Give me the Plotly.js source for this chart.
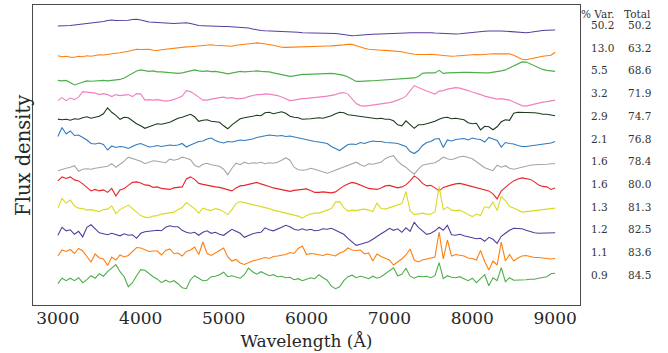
<!DOCTYPE html>
<html>
<head>
<meta charset="utf-8">
<script src="https://cdn.plot.ly/plotly-3.0.1.min.js"></script>
<style>
  html, body { margin: 0; padding: 0; background: #ffffff; }
  #chart { width: 668px; height: 353px; }
</style>
</head>
<body>
<div id="chart"></div>
<script>
// Wavelength grid (Å) shared by all eigenspectra
const wavelength = [
  3000,3050,3100,3150,3200,3250,3300,3350,3400,3450,
  3500,3550,3600,3650,3700,3750,3800,3850,3900,3950,
  4000,4050,4100,4150,4200,4250,4300,4350,4400,4450,
  4500,4550,4600,4650,4700,4750,4800,4850,4900,4950,
  5000,5050,5100,5150,5200,5250,5300,5350,5400,5450,
  5500,5550,5600,5650,5700,5750,5800,5850,5900,5950,
  6000,6050,6100,6150,6200,6250,6300,6350,6400,6450,
  6500,6550,6600,6650,6700,6750,6800,6850,6900,6950,
  7000,7050,7100,7150,7200,7250,7300,7350,7400,7450,
  7500,7550,7600,7650,7700,7750,7800,7850,7900,7950,
  8000,8050,8100,8150,8200,8250,8300,8350,8400,8450,
  8500,8550,8600,8650,8700,8750,8800,8850,8900,8950,
  9000
];

// Explained variance per component and cumulative total (%)
const pctVar = ['50.2','13.0','5.5','3.2','2.9','2.1','1.6','1.6','1.3','1.2','1.1','0.9'];
const cumVar = ['50.2','63.2','68.6','71.9','74.7','76.8','78.4','80.0','81.3','82.5','83.6','84.5'];

// Eigenspectra (arbitrary flux units, each about its own zero level)
const pc1 = [
  -1,-1,-0.8,-0.5,0,0.5,1,1.5,2,2.3,
  2.5,3.5,4.5,5,4.5,4.7,4.3,4.8,5.5,5.8,
  5,4,3,2.8,2.5,2.3,2.5,2,1.5,1.8,
  2,2.3,1.5,0.5,-0.5,-0.7,-1,-1.2,-1.3,-1.5,
  -1.5,-1.5,-1.7,-1.8,-2,-2.3,-3,-4,-5,-5.5,
  -5.8,-6,-6,-6.1,-6,-6.2,-6.3,-6.8,-7.3,-7.8,
  -7.8,-7.8,-8,-8.2,-8,-8,-8.2,-8.5,-9,-9.8,
  -10.3,-10.7,-10.5,-10,-9.8,-9.5,-9.3,-9.2,-9.3,-9.2,
  -9,-8.8,-8.5,-8.3,-8,-7.8,-7.7,-7.7,-7.7,-7.7,
  -7.7,-8,-8.3,-8.7,-8.8,-9,-9,-8.7,-8.2,-7.5,
  -7,-6.5,-6.2,-6.2,-6,-5.8,-5.8,-6,-6.2,-6.5,
  -7,-7.5,-7.8,-7.8,-7.3,-6.5,-6,-5.5,-5.3,-5.2,
  -5
];
const pc2 = [
  -8,-9,-8.5,-9.5,-9.5,-8.5,-9,-8,-8.5,-7.5,
  -7,-7.3,-6.5,-6,-5.5,-5,-4.5,-3.5,-2.5,-1.5,
  -1.8,-2,-1.5,-2.5,-2.8,-2,-1.5,-1,0,0.5,
  0.5,0.8,1,1.5,2,2.3,2.5,3,2.5,2.2,
  1.8,1.3,1.5,2.5,3,3.5,4,4.5,4.8,4.5,
  4,3.5,2.5,1.5,0.5,0.3,0.5,0.8,1,0.8,
  1,1.2,1.3,1.5,1.5,1.7,1.8,2,2.3,2.8,
  3.5,3.3,2,0.5,-0.5,-1.5,-2,-2.3,-2.5,-2.7,
  -3,-3,-3.3,-4,-5,-6,-6.5,-6.8,-7,-6.8,
  -6.5,-7,-7.5,-8,-8.5,-8.5,-8.3,-8,-7.5,-7,
  -7,-6.8,-7,-6.5,-6,-6,-6.2,-6,-5.5,-6,
  -7.5,-9.5,-11.5,-12,-11,-10,-9,-8.5,-8,-7.5,
  -4.5
];
const pc3 = [
  -10,-10.5,-10,-12,-14.5,-13,-11.5,-10.5,-10.8,-10.3,
  -10.5,-10,-10.5,-10,-9.5,-9,-7.5,-5,-2.5,-0.5,
  0.5,0,-1,-0.5,-1.5,-1.5,-2,-2.2,-2.5,-3,
  -2.5,-1.5,-0.5,0.5,-0.5,-1,-0.5,-1.2,-1,-1.5,
  -2.5,-3.5,-2.5,-1.5,-1,-1.5,-1,-1.2,-0.5,-1,
  -1,-1.5,-2.5,-3.5,-4.5,-5.5,-6,-5.5,-4.5,-4,
  -4,-3.8,-3.5,-3,-2.8,-2.5,-3,-3.5,-4,-5,
  -6.5,-9,-11,-11,-10.5,-10.5,-10.3,-10,-10,-9.5,
  -9.3,-9,-8.5,-8.3,-8.5,-8,-7.5,-6,-3,-2.5,
  -2.5,-2.5,0,-3,-2.5,-2.2,-2,-1.8,-2,-2,
  -2.3,-2,-2.2,-2.5,-2.5,-2,-1.5,-0.5,0.5,2.5,
  4.5,7,8.5,8.3,6.5,4.5,2.5,1,0,-0.8,
  -1
];
const pc4 = [
  -7.5,-4.5,-7.5,-5,-6.5,-4,1.5,1,0.5,0,
  -1.5,-0.5,-1.5,-3.5,-1.5,-2.5,-2,-1.5,-3.5,-0.5,
  -1,-7,-6.5,-7,-6.5,-7.5,-8,-7.5,-6.5,-5,
  -3,2.5,1.5,-1,-4,-7,-7,-6,-5,-4.5,
  -4,-5,-4.5,-5.5,-5.5,-5,-3.5,-2.5,-1.5,-1.5,
  -0.8,-1,-1.5,-2.5,-4,-6,-7.5,-7,-6,-5.5,
  -5.3,-5,-4.5,-4,-3.5,-3,-2.5,-1.5,0,0.5,
  -1,-6,-10.5,-12.5,-13,-12.5,-12,-11,-10.5,-10,
  -9.5,-8.5,-7,-5.5,-3,2,7.5,5.5,3.5,2,
  0.5,-1,2,2.5,4,5,5.5,5,4,2.5,
  1,0,-1.5,-3,-4,-5.5,-6,-5.5,-6.5,-7,
  -9,-11,-12.5,-13,-12,-10.5,-9.5,-9,-8.5,-7.5,
  -7
];
const pc5 = [
  -3.3,-4,-3.5,-4.5,-3,-3.5,-2,-1,-2.5,-1.5,
  -0.5,2,8,3.5,0.5,-3.5,-1.5,-2,-5,-8,
  -10,-12.5,-11,-9.5,-8,-8.5,-7.5,-6.5,-4.5,-2.5,
  -1.5,0,1.5,-1,-5.5,-4.5,-4,-5.5,-6,-6.5,
  -10,-13,-9,-6,-3,-2,-1.5,-0.5,0.5,0,
  3,3.5,2,3,4,2.5,-0.5,-1.5,-2,-3.5,
  -3.5,-3,-2.5,-2,-2.5,-1.5,0,2,3.5,3,
  1,0.5,0,-1,-1.5,-2,-2.5,-3,-2.5,-3.5,
  -3.5,-5,-9,-10,-5,-9,-12.5,-9,-9,-8,
  -7,-5.5,-3.5,-2,-1.5,-3,-2.5,-3,-4,-7,
  -8,-7.5,-14,-10.5,-11,-14,-11,-6,-4,-4.5,
  2.5,3.5,3.5,3.5,3,3,2.5,1.5,1.5,0.5,
  0
];
const pc6 = [
  2,11,4.5,7.5,3,3.5,1,-1.5,-5,-5.5,
  -4.5,-6,-11.5,-7.5,-9,-8,-8.5,-10,-8,-6,
  -5,-6.5,-8.5,-8,-7,-8,-7.5,-6.5,-7,-6.5,
  -5,-8.5,-6.5,-4.5,-3,-2.5,-0.5,0.5,-2,-3.5,
  -4.5,-3,-3.5,-2.5,-1.5,-2,-1.5,-0.5,1,2,
  3,3.5,3,2.5,3,2,2.5,1.5,0.5,-0.5,
  -1.5,-2,-3,-3.5,-4.5,-5,-8,-10,-12,-9,
  -6,-5.5,-6,-4,-5,-3.5,-2.5,-3,-3,-4,
  -4,-4.5,-5,-6.5,-8,-13,-15,-12,-7,-4,
  -3,-0.5,0,-9,-1.5,-2.5,-1,-0.5,0,-1.5,
  0.5,-0.5,-1,-3.5,1,-0.5,-2,-8.5,-4,-5,
  -5.5,-7,-8,-8,-7.5,-6.5,-6,-6,-5.5,-4.5,
  -3
];
const pc7 = [
  -9.5,-8,-7,-6,-4.5,-10,-8,-7.5,-8,-7,
  -6.5,-6,-5,-2.5,-6,-3,0,4,2.5,1,
  0,-2.5,-1,0.5,0,-0.5,-1.5,2,1,2,
  4,3,1.5,-4,-6,-3,-2,-3.5,-4,-5,
  -8,-13.5,-7,-2,-3.5,-1,-2.5,-1.5,-2,-1,
  -2.5,-1.5,-2,-1,1,3.5,1,-6,-8.5,-9,
  -8.5,-7,-8,-9.5,-11,-12,-10.5,-9,-7,-6,
  -4,-2.5,-1,-3.5,-5,-2.5,-3,-2,-1,2.5,
  4.5,5.5,0,-3.5,-6,-10,-13,-8,-4,-3,
  -2,-1.5,1,4,2.5,1.5,3,4.5,5,4,
  2.5,-0.5,-3.5,-6.5,-8,-9.5,-4,-6,-4.5,-7,
  -8,-7,-5.5,-4.5,-4,-3.5,-3.5,-3.5,-3,-2.5,
  -2.5
];
const pc8 = [
  3,7,5.5,7,4,3,0,-4,-7,-5.5,
  -7,-6,-8.5,-4.5,-12,-6,-4.5,-1.5,1.5,2,
  1,-1,-1.5,-3.5,-3,-4.5,-5,-5.5,-4,-3.5,
  -3,5,7,4.5,0.5,-0.5,-1.5,-2.5,-3,-3.5,
  -4.5,-5.5,-7,-4,-2,-1.5,-0.5,0.5,1.5,0,
  -1,-2.5,-4,-5,-5.5,-6.5,-7.5,-6.5,-6,-5,
  -5,-6.5,-8.5,-8.5,-8,-8.5,-9,-8,-5,-2,
  0,1.5,0.5,-1,-3,-4.5,-5,-5.5,-4,-2,
  -1.5,-2.5,-4,-3,-1,3,8,5,0.5,-2,
  -1.5,-4,-7,-3.5,-2,-1,0,0.5,-0.5,-1.5,
  -2.5,-3.5,-5,-6,-7,-10,-15,-7,-3,0,
  3,5,6,5.5,4.5,2,-1,-2.5,-3,-5.5,
  -4
];
const pc9 = [
  -1.5,8,3.5,6.5,0.5,-1.5,-2,-3.5,-3,-4,
  -5,-3,-2.5,0.5,-7,-3,-1,1.5,-2,-6,
  -9,-10.5,-11,-9.5,-9,-7.5,-7,-6.5,-5.5,-3,
  -1,4,1,-2,-6.5,-1.5,-3,-4,-2,-3,
  -5,-8,-3,3,5,4,3.5,2,1,0.5,
  -1,-2,-3.5,-4.5,-5,-6,-7,-8,-9.5,-11.5,
  -9,-7.5,-6.5,-6.5,-5,-3.5,-2,4.5,5,-1,
  -4.5,-3.5,-4,-3,-2.5,-3.5,-5,3.5,-2,-2.5,
  -1,0.5,2,3,15,-4,-8,-7.5,-6.5,-7.5,
  -7.5,-5,20,-3,-0.5,-3.5,-4,-3.5,-6,-8,
  -10,-7.5,-9,0,-1.5,4.5,-4,10,6,0,
  -1.5,-3.5,-5.5,-5,-4.5,-4,-3.5,-2.5,-2,-1.5,
  -1.5
];
const pc10 = [
  -6,2,-1.5,-0.5,-5,-2,-7.5,2,4.5,0,
  -3.5,-4.5,-5.5,-4,-5,-6.5,-4.5,-6,-5.5,-9,
  -4,-2.5,-2,-1.5,-1,-1.5,2,3.5,2.5,2.5,
  -1,-3,-4,-3,-6,-3,-1.5,-4,-3,-5,
  -6,-3,0,-2,-4,-8,-6,-4.5,-3.5,-3,
  1.5,-0.5,-1.5,0,2,4,2.5,0,-1,0.5,
  -1,0,-1.5,-1,0.5,0,1,-1,-3,-5,
  -9,-13,-16,-15,-14,-12.5,-10,-7,-4.5,-2,
  1,-1,0.5,-3,1.5,-2,7,2,-1.5,-5,
  -4,-1.5,2,-1,4,-5.5,-6,-5,-6.5,-7.5,
  -8.5,-9.5,-9,-12,-8,-10,-14,-7,-4,-1,
  1,0.5,0.5,-1,-2.5,-3.5,-4,-4,-3.5,-4,
  -3.5
];
const pc11 = [
  -4,2,0.5,2.5,-1.5,3.5,1,-5,-10,-2,
  -6,-7,-13.5,-5,-8,-3,-5,-3.5,0.5,4.5,
  4,2.5,0.5,1,1,-3,1.5,3,-1.5,-1,
  -4,0.5,2,5,-2.5,10,-1.5,-3.5,-1,1.5,
  4,-5,-9,-7.5,-11,-12.5,-10.5,-9,-8,-6.5,
  -5.5,-6.5,-4.5,-4,-3.5,-2.5,-0.5,-1.5,3.5,6,
  -2.5,-1.5,-2,-2.5,-3.5,-2,-3,-4,-1,0.5,
  4,2,1.5,2,-2,-1,-9,-2,-4.5,-6.5,
  -8,-13,-10,-7,-3,3,-8,-10,-8,-7,
  -6,-5,20,-7,12,-4,-2.5,-3.5,-4,-6,
  -6.5,-8,1.5,-9.5,-18,-9,-13,10,-9,-2.5,
  -9,-6,-4,-3.5,-4.5,-5.5,-5.5,-6,-6.5,-7,
  -6.5
];
const pc12 = [
  -9,-3.5,-6,-3.5,-6,-3,-8,-5,-1,-3.5,
  1,-1.5,3,6.5,10,3,-2,-12,-8,-1,
  5,4.5,1,-2,-4.5,-8,-5.5,-7.5,-6,-9,
  -13,-14,-5,-1,-3.5,-6,-5.5,-2,-1.5,0,
  2.5,-2,-1,-2.5,-3.5,0,6.5,3,0.5,3,
  1,-1,0,-2,-1.5,-3,-2.5,-5,-4,-6,
  -4.5,-3,-4,0,-3,-5.5,-11.5,-14,-12,-6,
  -2,-0.5,-3,-1.5,-2.5,-4,-1.5,-3.5,-2,1,
  4,7,-1,0.5,6.5,-1.5,-3.5,-1.5,-2,-1.5,
  -3,-1,12,-4,-1,-2.5,-3,-2,-4,-6,
  -3.5,-8,-4,0,-11,-3,-6,7,-7,-3,
  -5.5,-5.5,-5.5,-5,-4.5,-4.5,-3.5,-3,-2,1,
  1.5
];

const components = [pc1, pc2, pc3, pc4, pc5, pc6, pc7, pc8, pc9, pc10, pc11, pc12];
const lineColors = ['#5a3d9e', '#ff7f0e', '#4daf4a', '#f07fc0', '#1c3b1e', '#2f7bbf',
                    '#a6a6a6', '#e8252a', '#dada1e', '#553c9c', '#ff7f0e', '#4daf4a'];

// Vertical layout of the stacked spectra (y axis spans 0..300)
const topLevel = 280;
const spacing = 22.7;
const levelOf = i => topLevel - i * spacing;

const serif = 'DejaVu Serif, serif';
const textColor = '#262626';

const traces = components.map((flux, i) => ({
  type: 'scatter',
  mode: 'lines',
  x: wavelength,
  y: flux.map(v => v + levelOf(i)),
  line: { color: lineColors[i], width: 1.1 },
  hoverinfo: 'skip',
  showlegend: false
}));

// Variance table to the right of the panel
const annotations = [
  { text: '% Var.', x: 1.0, y: topLevel + 11.5, xanchor: 'left' },
  { text: 'Total', x: 1.0786, y: topLevel + 11.5, xanchor: 'left' }
];
components.forEach((_, i) => {
  annotations.push({ text: pctVar[i], x: 1.0183, y: levelOf(i), xanchor: 'left' });
  annotations.push({ text: cumVar[i], x: 1.086, y: levelOf(i), xanchor: 'left' });
});
annotations.forEach(a => {
  a.xref = 'paper';
  a.yref = 'y';
  a.yanchor = 'middle';
  a.showarrow = false;
  a.borderpad = 0;
  a.font = { family: serif, size: 10.5, color: '#333333' };
});

// Vertical axis label
annotations.push({
  text: 'Flux density',
  xref: 'paper', yref: 'paper',
  x: -0.0185, y: 0.5,
  xanchor: 'center', yanchor: 'middle',
  textangle: -90,
  showarrow: false,
  borderpad: 0,
  font: { family: serif, size: 19.5, color: textColor }
});

const layout = {
  width: 668,
  height: 353,
  margin: { l: 33, r: 88, t: 5, b: 48 },
  paper_bgcolor: '#ffffff',
  plot_bgcolor: '#ffffff',
  font: { family: serif, color: textColor },
  xaxis: {
    range: [2700, 9300],
    tickvals: [3000, 4000, 5000, 6000, 7000, 8000, 9000],
    ticktext: ['3000', '4000', '5000', '6000', '7000', '8000', '9000'],
    ticks: '',
    ticklabelstandoff: -3,
    showgrid: false,
    zeroline: false,
    showline: true,
    mirror: true,
    linecolor: '#4a4a4a',
    linewidth: 1.2,
    tickfont: { family: serif, size: 17, color: textColor },
    title: { text: 'Wavelength (Å)', font: { family: serif, size: 17, color: textColor }, standoff: 8 }
  },
  yaxis: {
    range: [0, 300],
    showticklabels: false,
    ticks: '',
    showgrid: false,
    zeroline: false,
    showline: true,
    mirror: true,
    linecolor: '#4a4a4a',
    linewidth: 1.2
  },
  annotations: annotations
};

Plotly.newPlot('chart', traces, layout, { staticPlot: true, displayModeBar: false });
</script>
</body>
</html>
